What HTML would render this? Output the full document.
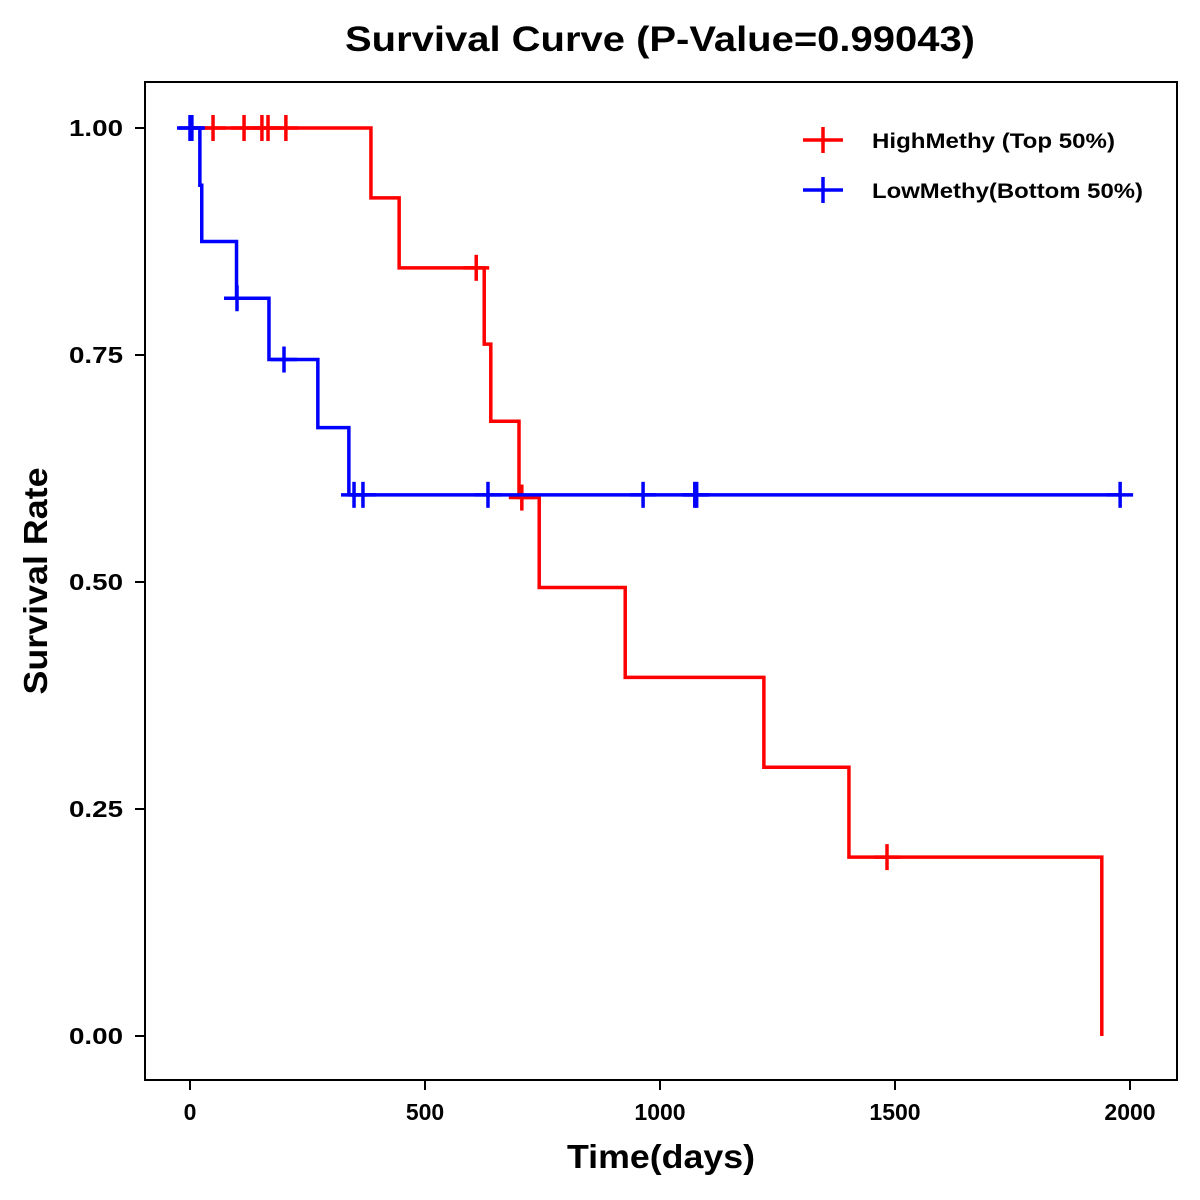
<!DOCTYPE html>
<html><head><meta charset="utf-8"><style>
html,body{margin:0;padding:0;background:#fff;}
svg{display:block;font-family:"Liberation Sans",Arial,sans-serif;}
</style></head><body>
<svg id="chart" width="1200" height="1200" viewBox="0 0 1200 1200">
<text x="660" y="51" text-anchor="middle" font-size="35" font-weight="bold" textLength="630" lengthAdjust="spacingAndGlyphs">Survival Curve (P-Value=0.99043)</text>
<rect x="145" y="82" width="1032" height="998" fill="none" stroke="#000" stroke-width="2"/>
<g id="xaxis"></g>
<g id="yaxis"></g>
<text x="661" y="1168" text-anchor="middle" font-size="33" font-weight="bold" textLength="188" lengthAdjust="spacingAndGlyphs">Time(days)</text>
<text transform="translate(47,581) rotate(-90)" text-anchor="middle" font-size="33" font-weight="bold" textLength="227" lengthAdjust="spacingAndGlyphs">Survival Rate</text>
<g id="series"></g>
<g>
  <g>
    <line x1="803" y1="140" x2="843" y2="140" stroke="#f00" stroke-width="3.5"/>
    <line x1="823" y1="127" x2="823" y2="153" stroke="#f00" stroke-width="3.5"/>
    <text x="872" y="148" font-size="21" font-weight="bold" textLength="243" lengthAdjust="spacingAndGlyphs">HighMethy (Top 50%)</text>
  </g>
  <g>
    <line x1="803" y1="190" x2="843" y2="190" stroke="#00f" stroke-width="3.5"/>
    <line x1="823" y1="177" x2="823" y2="203" stroke="#00f" stroke-width="3.5"/>
    <text x="872" y="198" font-size="21" font-weight="bold" textLength="271" lengthAdjust="spacingAndGlyphs">LowMethy(Bottom 50%)</text>
  </g>
</g>
</svg>
<script>
const xTicks = [0, 500, 1000, 1500, 2000];
const yTicks = [0, 0.25, 0.5, 0.75, 1.0];
const yTickLabels = ["0.00", "0.25", "0.50", "0.75", "1.00"];
const highTimes = [385, 445, 626, 640, 700, 743, 926, 1221, 1402, 1940];
const highSurv = [0.923, 0.846, 0.762, 0.677, 0.593, 0.494, 0.395, 0.296, 0.197, 0.0];
const highCensor = [49, 115, 153, 166, 204, 609, 706, 1483];
const highEnd = 1940;
const lowTimes = [21, 25, 99, 168, 272, 338];
const lowSurv = [0.937, 0.875, 0.8125, 0.745, 0.67, 0.596];
const lowCensor = [0, 4, 100, 200, 349, 368, 634, 964, 1074, 1078, 1979];
const lowEnd = 1979;

const NS = "http://www.w3.org/2000/svg";
const X = t => 190 + t * 0.47;
const Y = s => 1036 - s * 908;
function mk(tag, attrs, parent) {
  const e = document.createElementNS(NS, tag);
  for (const k in attrs) e.setAttribute(k, attrs[k]);
  parent.appendChild(e);
  return e;
}
const xa = document.getElementById('xaxis');
xTicks.forEach(v => {
  const l = mk('line', {x1: X(v), x2: X(v), y1: 1080, y2: 1090, stroke: '#000', 'stroke-width': 2}, xa);
  
  
  const t = mk('text', {x: X(v), y: 1120, 'text-anchor': 'middle', 'font-size': 23, 'font-weight': 'bold'}, xa);
  t.textContent = v;
  
  
});
const ya = document.getElementById('yaxis');
yTicks.forEach((v, i) => {
  const l = mk('line', {x1: 135, x2: 145, y1: Y(v), y2: Y(v), stroke: '#000', 'stroke-width': 2}, ya);
  
  
  const t = mk('text', {x: 123, y: Y(v) + 8, 'text-anchor': 'end', 'font-size': 23, 'font-weight': 'bold', textLength: 54, lengthAdjust: 'spacingAndGlyphs'}, ya);
  t.textContent = yTickLabels[i];
  
  
});
const sg = document.getElementById('series');
function survAt(times, surv, t) {
  let s = 1;
  for (let i = 0; i < times.length; i++) if (times[i] <= t) s = surv[i];
  return s;
}
function drawCurve(times, surv, censor, end, color, name) {
  let d = 'M' + X(0) + ' ' + Y(1);
  for (let i = 0; i < times.length; i++) {
    d += ' H' + X(times[i]) + ' V' + Y(surv[i]);
  }
  d += ' H' + X(end);
  const p = mk('path', {d: d, fill: 'none', stroke: color, 'stroke-width': 3.5}, sg);
  
  
  censor.forEach(c => {
    const s = survAt(times, surv, c);
    const g = mk('g', {}, sg);
    
    
    mk('line', {x1: X(c) - 13, x2: X(c) + 13, y1: Y(s), y2: Y(s), stroke: color, 'stroke-width': 3.5}, g);
    mk('line', {x1: X(c), x2: X(c), y1: Y(s) - 13, y2: Y(s) + 13, stroke: color, 'stroke-width': 3.5}, g);
  });
}
drawCurve(highTimes, highSurv, highCensor, highEnd, '#ff0000', 'high-methy');
drawCurve(lowTimes, lowSurv, lowCensor, lowEnd, '#0000ff', 'low-methy');
</script>
</body></html>
